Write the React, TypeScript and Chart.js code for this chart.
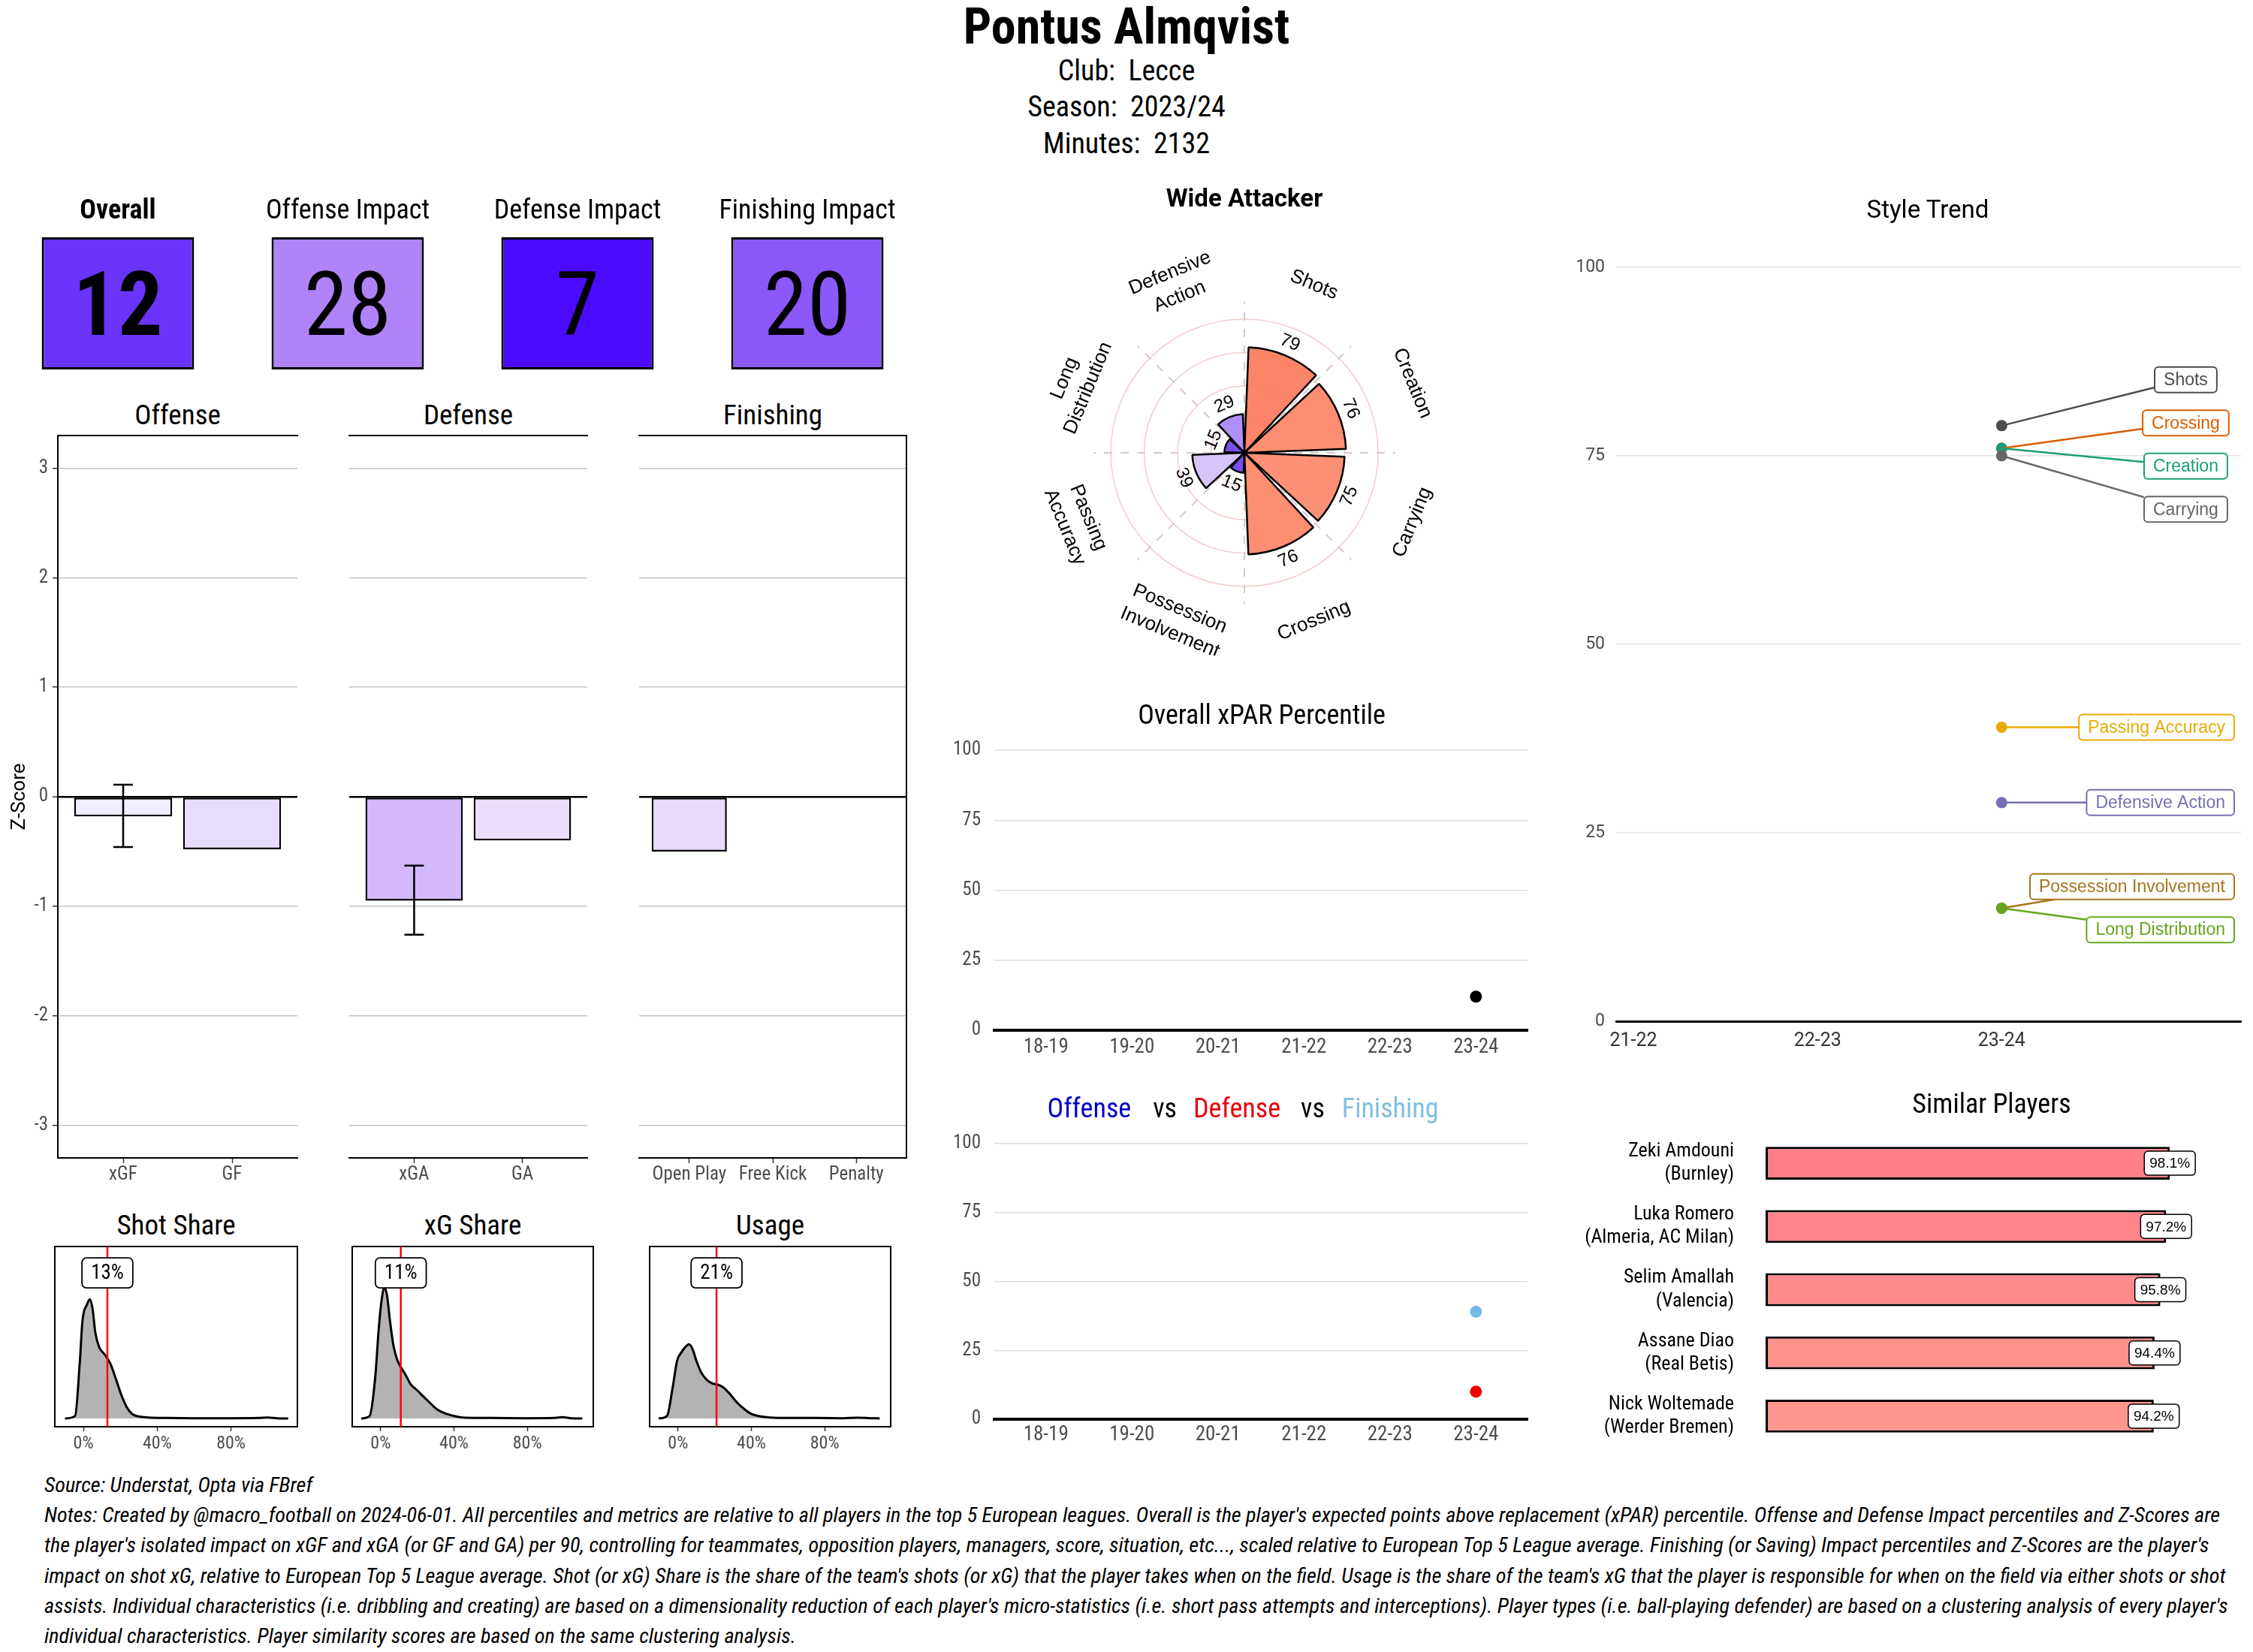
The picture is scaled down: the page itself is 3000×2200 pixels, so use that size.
import React, { useEffect, useRef } from 'react';
import { Chart, registerables } from 'chart.js';
Chart.register(...registerables);

const COND = '"Roboto Condensed", "Liberation Sans Narrow", "DejaVu Sans Condensed", sans-serif';
const ROBOTO = 'Roboto, "Liberation Sans", sans-serif';
const ARIAL = '"Liberation Sans", Arial, Helvetica, sans-serif';

// ---------------- data ----------------
const playerName = 'Pontus Almqvist';
const clubName = 'Lecce';
const seasonName = '2023/24';
const minutesPlayed = 2132;

const tileLabels = ['Overall', 'Offense Impact', 'Defense Impact', 'Finishing Impact'];
const tileValues = [12, 28, 7, 20];
const tileColors = ['#6A35FA', '#B083F9', '#4B0BFF', '#8B58FA'];

const offenseCats = ['xGF', 'GF'];
const offenseZ = [-0.18, -0.48];
const offenseErrLow = [-0.46, null];
const offenseErrHigh = [0.11, null];
const offenseColors = ['#EFEFFD', '#E8DCFE'];

const defenseCats = ['xGA', 'GA'];
const defenseZ = [-0.95, -0.40];
const defenseErrLow = [-1.26, null];
const defenseErrHigh = [-0.63, null];
const defenseColors = ['#D3B8FA', '#EADDFE'];

const finishingCats = ['Open Play', 'Free Kick', 'Penalty'];
const finishingZ = [-0.50, 0, 0];
const finishingErrLow = [null, null, null];
const finishingErrHigh = [null, null, null];
const finishingColors = ['#E8D9FD', '#FFFFFF', '#FFFFFF'];

const shotShareX = [-0.10, -0.045, -0.02, -0.005, 0.02, 0.035, 0.05, 0.065, 0.085, 0.115, 0.145, 0.175, 0.205, 0.235, 0.265, 0.30, 0.35, 0.45, 0.60, 0.80, 0.95, 1.00, 1.05, 1.11];
const shotShareY = [0, 0.10, 2.20, 3.90, 4.55, 4.75, 4.35, 3.40, 2.85, 2.55, 2.20, 1.60, 0.95, 0.45, 0.17, 0.08, 0.04, 0.02, 0.01, 0.01, 0.02, 0.04, 0.01, 0];
const shotShareValue = 0.13;

const xgShareX = [-0.106, -0.06, -0.03, -0.01, 0.005, 0.02, 0.035, 0.05, 0.07, 0.09, 0.11, 0.135, 0.165, 0.195, 0.23, 0.265, 0.31, 0.36, 0.41, 0.46, 0.60, 0.80, 0.95, 0.99, 1.04, 1.10];
const xgShareY = [0, 0.10, 1.60, 3.60, 4.70, 5.20, 4.90, 3.95, 2.90, 2.35, 2.05, 1.75, 1.35, 1.15, 0.90, 0.65, 0.35, 0.18, 0.08, 0.03, 0.02, 0.01, 0.02, 0.05, 0.01, 0];
const xgShareValue = 0.11;

const usageX = [-0.106, -0.06, -0.03, -0.005, 0.02, 0.04, 0.06, 0.08, 0.10, 0.125, 0.155, 0.185, 0.215, 0.245, 0.28, 0.32, 0.36, 0.40, 0.45, 0.50, 0.60, 0.75, 0.90, 0.98, 1.05, 1.10];
const usageY = [0, 0.10, 1.20, 2.30, 2.65, 2.85, 2.95, 2.75, 2.30, 1.85, 1.55, 1.40, 1.35, 1.25, 1.00, 0.65, 0.38, 0.18, 0.08, 0.04, 0.02, 0.02, 0.01, 0.03, 0.01, 0];
const usageValue = 0.21;

const radarCats = ['Shots', 'Creation', 'Carrying', 'Crossing', 'Possession Involvement', 'Passing Accuracy', 'Long Distribution', 'Defensive Action'];
const radarValues = [79, 76, 75, 76, 15, 39, 15, 29];
const radarColors = ['rgba(252,122,92,0.92)', 'rgba(253,132,102,0.92)', 'rgba(253,135,106,0.92)', 'rgba(253,132,102,0.92)', 'rgba(110,63,238,0.92)', 'rgba(211,192,251,0.92)', 'rgba(110,63,238,0.92)', 'rgba(167,135,245,0.92)'];

const seasons = ['18-19', '19-20', '20-21', '21-22', '22-23', '23-24'];
const overallPct = [null, null, null, null, null, 12];
const defensePct = [null, null, null, null, null, 10];
const finishingPct = [null, null, null, null, null, 39];

const trendSeasons = ['21-22', '22-23', '23-24'];
const trendNames = ['Shots', 'Crossing', 'Creation', 'Carrying', 'Passing Accuracy', 'Defensive Action', 'Possession Involvement', 'Long Distribution'];
const trendValues = [
  [null, null, 79],
  [null, null, 76],
  [null, null, 76],
  [null, null, 75],
  [null, null, 39],
  [null, null, 29],
  [null, null, 15],
  [null, null, 15],
];
const trendColors = ['#4D4D4D', '#D95F02', '#1B9E77', '#666666', '#E6AB02', '#7570B3', '#A6761D', '#66A61E'];

const simNames = ['Zeki Amdouni', 'Luka Romero', 'Selim Amallah', 'Assane Diao', 'Nick Woltemade'];
const simClubs = ['Burnley', 'Almeria, AC Milan', 'Valencia', 'Real Betis', 'Werder Bremen'];
const simScores = [98.1, 97.2, 95.8, 94.4, 94.2];
const simColors = ['#FF7F88', '#FF858A', '#FF8B8C', '#FF918D', '#FF968E'];

const sourceText = 'Source: Understat, Opta via FBref';
const notesLines = [
  "Notes: Created by @macro_football on 2024-06-01. All percentiles and metrics are relative to all players in the top 5 European leagues. Overall is the player's expected points above replacement (xPAR) percentile. Offense and Defense Impact percentiles and Z-Scores are",
  "the player's isolated impact on xGF and xGA (or GF and GA) per 90, controlling for teammates, opposition players, managers, score, situation, etc..., scaled relative to European Top 5 League average. Finishing (or Saving) Impact percentiles and Z-Scores are the player's",
  "impact on shot xG, relative to European Top 5 League average. Shot (or xG) Share is the share of the team's shots (or xG) that the player takes when on the field. Usage is the share of the team's xG that the player is responsible for when on the field via either shots or shot",
  "assists. Individual characteristics (i.e. dribbling and creating) are based on a dimensionality reduction of each player's micro-statistics (i.e. short pass attempts and interceptions). Player types (i.e. ball-playing defender) are based on a clustering analysis of every player's",
  'individual characteristics. Player similarity scores are based on the same clustering analysis.',
];

// ---------------- helpers ----------------
function roundRect(ctx: any, x: number, y: number, w: number, h: number, r: number) {
  ctx.beginPath();
  ctx.moveTo(x + r, y);
  ctx.lineTo(x + w - r, y);
  ctx.arcTo(x + w, y, x + w, y + r, r);
  ctx.lineTo(x + w, y + h - r);
  ctx.arcTo(x + w, y + h, x + w - r, y + h, r);
  ctx.lineTo(x + r, y + h);
  ctx.arcTo(x, y + h, x, y + h - r, r);
  ctx.lineTo(x, y + r);
  ctx.arcTo(x, y, x + r, y, r);
  ctx.closePath();
}

function noPad(s: any) {
  s.paddingTop = 0;
  s.paddingBottom = 0;
  s.paddingLeft = 0;
  s.paddingRight = 0;
}

const baseOpts = {
  animation: false,
  responsive: false,
  devicePixelRatio: 1,
  events: [],
};
const noPlugins = { legend: { display: false }, tooltip: { enabled: false } };

const framePlugin = (sides: any, width = 2) => ({
  id: 'frame',
  afterDatasetsDraw(chart: any) {
    const { ctx, chartArea: a } = chart;
    ctx.save();
    ctx.strokeStyle = '#000';
    ctx.lineWidth = width;
    ctx.lineCap = 'square';
    ctx.beginPath();
    if (sides.top) { ctx.moveTo(a.left, a.top); ctx.lineTo(a.right, a.top); }
    if (sides.bottom) { ctx.moveTo(a.left, a.bottom); ctx.lineTo(a.right, a.bottom); }
    if (sides.left) { ctx.moveTo(a.left, a.top); ctx.lineTo(a.left, a.bottom); }
    if (sides.right) { ctx.moveTo(a.right, a.top); ctx.lineTo(a.right, a.bottom); }
    ctx.stroke();
    ctx.restore();
  },
});

function repel(targets: number[], gap: number): number[] {
  const idx = targets.map((_, i) => i).sort((a, b) => targets[a] - targets[b] || a - b);
  let clusters = idx.map((i) => ({ members: [i], center: targets[i] }));
  let merged = true;
  while (merged) {
    merged = false;
    for (let k = 0; k < clusters.length - 1; k++) {
      const A = clusters[k], B = clusters[k + 1];
      const aBottom = A.center + ((A.members.length - 1) * gap) / 2;
      const bTop = B.center - ((B.members.length - 1) * gap) / 2;
      if (bTop - aBottom < gap) {
        const members = A.members.concat(B.members);
        const center = members.reduce((s, i) => s + targets[i], 0) / members.length;
        clusters.splice(k, 2, { members, center });
        merged = true;
        break;
      }
    }
  }
  const out: number[] = new Array(targets.length);
  clusters.forEach((c) => c.members.forEach((m, j) => { out[m] = c.center + (j - (c.members.length - 1) / 2) * gap; }));
  return out;
}

// ---------------- chart configs ----------------
function tilesConfig() {
  return {
    type: 'bar',
    data: {
      labels: tileLabels,
      datasets: [{
        data: tileLabels.map(() => 1),
        backgroundColor: tileColors,
        borderColor: '#000',
        borderWidth: 3,
        borderSkipped: false,
        barPercentage: 0.663,
        categoryPercentage: 1,
      }],
    },
    options: {
      ...baseOpts,
      layout: { padding: { left: 4, right: 4, top: 0, bottom: 8 } },
      plugins: noPlugins,
      scales: {
        x: {
          position: 'top',
          grid: { display: false, drawTicks: false },
          border: { display: false },
          ticks: {
            color: '#000',
            padding: 12,
            font: (c: any) => ({ family: COND, size: 36, weight: c.index === 0 ? 'bold' : 'normal' }),
          },
          afterFit: (s: any) => { s.height = 86; noPad(s); },
        },
        y: { display: false, min: 0, max: 1 },
      },
    },
    plugins: [{
      id: 'tileNumbers',
      afterDatasetsDraw(chart: any) {
        const ctx = chart.ctx;
        chart.getDatasetMeta(0).data.forEach((el: any, i: number) => {
          const p = el.getProps(['x', 'y', 'base'], true);
          const cy = (p.y + p.base) / 2;
          ctx.save();
          ctx.font = `${i === 0 ? 'bold' : 'normal'} 118px ${COND}`;
          ctx.textAlign = 'center';
          ctx.textBaseline = 'alphabetic';
          ctx.fillStyle = '#000';
          ctx.fillText(String(tileValues[i]), p.x, cy + 0.36 * 118);
          ctx.restore();
        });
      },
    }],
  };
}

function zConfig(cats: string[], vals: number[], lo: any[], hi: any[], colors: string[], opt: any) {
  const n = cats.length;
  return {
    type: 'bar',
    data: {
      datasets: [{
        data: cats.map((_, i) => ({ x: i + 1, y: vals[i] })),
        backgroundColor: colors,
        borderColor: '#000',
        borderWidth: 2.5,
        borderSkipped: false,
        barPercentage: 0.9,
        categoryPercentage: 1,
      }],
    },
    options: {
      ...baseOpts,
      layout: { padding: { left: opt.padL, right: opt.padR, top: 10, bottom: 0 } },
      plugins: noPlugins,
      scales: {
        x: {
          type: 'linear',
          offset: false,
          min: 0.4,
          max: n + 0.6,
          afterBuildTicks: (s: any) => { s.ticks = cats.map((_, i) => ({ value: i + 1 })); },
          ticks: {
            callback: (v: any) => cats[Math.round(v) - 1] ?? '',
            color: '#4D4D4D',
            font: { family: COND, size: 25 },
            padding: 1,
            autoSkip: false,
            maxRotation: 0,
          },
          grid: { offset: false, drawOnChartArea: false, drawTicks: true, tickLength: 7, tickColor: '#333', tickWidth: 1.5 },
          border: { display: true, color: '#000', width: 2 },
          afterFit: (s: any) => { s.height = 58; noPad(s); },
        },
        y: {
          min: -3.3,
          max: 3.3,
          afterBuildTicks: (s: any) => { s.ticks = [-3, -2, -1, 0, 1, 2, 3].map((v) => ({ value: v })); },
          grid: {
            color: (c: any) => (c.tick && c.tick.value === 0 ? '#000' : '#C4C4C4'),
            lineWidth: (c: any) => (c.tick && c.tick.value === 0 ? 2.5 : 1.5),
            drawTicks: opt.showY,
            tickLength: 7,
            tickColor: '#333',
            tickWidth: 1.5,
          },
          border: { display: opt.showY, color: '#000', width: 2 },
          ticks: { display: opt.showY, padding: 6, color: '#4D4D4D', font: { family: COND, size: 25 } },
          title: {
            display: opt.showY,
            text: 'Z-Score',
            color: '#000',
            font: { family: ROBOTO, size: 26 },
            padding: { top: 11, bottom: 0 },
          },
          afterFit: (s: any) => { s.width = opt.showY ? 77 : 0; noPad(s); },
        },
      },
    },
    plugins: [
      framePlugin({ top: true, right: opt.right }),
      {
        id: 'errbars',
        afterDatasetsDraw(chart: any) {
          const { ctx } = chart;
          const xs = chart.scales.x, ys = chart.scales.y;
          const unit = Math.abs(xs.getPixelForValue(2) - xs.getPixelForValue(1));
          ctx.save();
          ctx.strokeStyle = '#000';
          ctx.lineWidth = 2.5;
          lo.forEach((l: any, i: number) => {
            if (l == null || hi[i] == null) return;
            const x = xs.getPixelForValue(i + 1);
            const y1 = ys.getPixelForValue(l), y2 = ys.getPixelForValue(hi[i]);
            const hw = unit * 0.09;
            ctx.beginPath();
            ctx.moveTo(x, y1); ctx.lineTo(x, y2);
            ctx.moveTo(x - hw, y1); ctx.lineTo(x + hw, y1);
            ctx.moveTo(x - hw, y2); ctx.lineTo(x + hw, y2);
            ctx.stroke();
          });
          ctx.restore();
        },
      },
    ],
  };
}

function densityConfig(xs: number[], ys: number[], value: number) {
  return {
    type: 'line',
    data: {
      datasets: [{
        data: xs.map((x, i) => ({ x, y: ys[i] })),
        borderColor: '#000',
        borderWidth: 3,
        backgroundColor: '#B3B3B3',
        fill: 'origin',
        pointRadius: 0,
        cubicInterpolationMode: 'monotone',
      }],
    },
    options: {
      ...baseOpts,
      layout: { padding: { left: 5, right: 5, top: 5, bottom: 0 } },
      plugins: { ...noPlugins, filler: { propagate: false } },
      scales: {
        x: {
          type: 'linear',
          min: -0.155,
          max: 1.16,
          afterBuildTicks: (s: any) => { s.ticks = [0, 0.4, 0.8].map((v) => ({ value: v })); },
          ticks: {
            callback: (v: any) => Math.round(v * 100) + '%',
            color: '#4D4D4D',
            font: { family: COND, size: 24 },
            padding: 3,
            maxRotation: 0,
          },
          grid: { drawOnChartArea: false, drawTicks: true, tickLength: 6, tickColor: '#333', tickWidth: 1.5 },
          border: { display: true, color: '#000', width: 2 },
          afterFit: (s: any) => { s.height = 50; noPad(s); },
        },
        y: { display: false, min: -0.33, max: 6.85 },
      },
    },
    plugins: [
      framePlugin({ top: true, left: true, right: true }),
      {
        id: 'marker',
        afterDatasetsDraw(chart: any) {
          const { ctx, chartArea: a } = chart;
          const xsc = chart.scales.x, ysc = chart.scales.y;
          const x = xsc.getPixelForValue(value);
          ctx.save();
          ctx.strokeStyle = '#FF0000';
          ctx.lineWidth = 2.5;
          ctx.beginPath(); ctx.moveTo(x, a.top); ctx.lineTo(x, a.bottom); ctx.stroke();
          const txt = Math.round(value * 100) + '%';
          ctx.font = `27px ${COND}`;
          const w = ctx.measureText(txt).width + 24, h = 40;
          const cy = ysc.getPixelForValue(5.8);
          roundRect(ctx, x - w / 2, cy - h / 2, w, h, 6);
          ctx.fillStyle = '#fff'; ctx.fill();
          ctx.lineWidth = 1.8; ctx.strokeStyle = '#000'; ctx.stroke();
          ctx.fillStyle = '#000'; ctx.textAlign = 'center'; ctx.textBaseline = 'middle';
          ctx.fillText(txt, x, cy + 1);
          ctx.restore();
        },
      },
    ],
  };
}

function wrapLabel(s: string): string[] {
  return s.includes(' ') ? s.split(' ') : [s];
}

function drawTangent(ctx: any, cx: number, cy: number, deg: number, dist: number, lines: string[], font: string, lh: number) {
  const th = (deg * Math.PI) / 180;
  const x = cx + dist * Math.sin(th), y = cy - dist * Math.cos(th);
  let rot = deg;
  if (deg > 90 && deg < 270) rot = deg - 180;
  ctx.save();
  ctx.translate(x, y);
  ctx.rotate((rot * Math.PI) / 180);
  ctx.font = font;
  ctx.fillStyle = '#000';
  ctx.textAlign = 'center';
  ctx.textBaseline = 'middle';
  lines.forEach((ln, k) => ctx.fillText(ln, 0, (k - (lines.length - 1) / 2) * lh));
  ctx.restore();
}

function radarConfig() {
  const labels16: string[] = [];
  const data16: number[] = [];
  const colors16: string[] = [];
  radarCats.forEach((c, i) => {
    labels16.push(c); data16.push(radarValues[i]); colors16.push(radarColors[i]);
    labels16.push(''); data16.push(0); colors16.push('rgba(0,0,0,0)');
  });
  const n = radarCats.length;
  const slot = 360 / n;
  return {
    type: 'polarArea',
    data: {
      labels: labels16,
      datasets: [{
        data: data16,
        backgroundColor: colors16,
        borderColor: '#000',
        borderWidth: (c: any) => (c.dataIndex % 2 === 0 ? 2.5 : 0),
        angle: (c: any) => (c.dataIndex % 2 === 0 ? slot * 0.9 : slot * 0.1),
      }],
    },
    options: {
      ...baseOpts,
      layout: { padding: 3 },
      plugins: noPlugins,
      scales: {
        r: {
          min: 0,
          max: 150,
          startAngle: slot * 0.05,
          ticks: { display: false, stepSize: 25 },
          grid: {
            circular: true,
            color: (c: any) => (c.tick && c.tick.value > 0 && c.tick.value <= 100 ? 'rgba(240,185,185,0.75)' : 'rgba(0,0,0,0)'),
            lineWidth: 1.5,
          },
          angleLines: { display: false },
          pointLabels: { display: false },
        },
      },
    },
    plugins: [{
      id: 'radarDeco',
      beforeDatasetsDraw(chart: any) {
        const r = chart.scales.r; const ctx = chart.ctx;
        const cx = r.xCenter, cy = r.yCenter, len = r.getDistanceFromCenterForValue(113);
        ctx.save();
        ctx.strokeStyle = '#D5C9C9';
        ctx.lineWidth = 2;
        ctx.setLineDash([11, 11]);
        for (let k = 0; k < n; k++) {
          const th = (k * slot * Math.PI) / 180;
          ctx.beginPath();
          ctx.moveTo(cx, cy);
          ctx.lineTo(cx + len * Math.sin(th), cy - len * Math.cos(th));
          ctx.stroke();
        }
        ctx.restore();
      },
      afterDatasetsDraw(chart: any) {
        const r = chart.scales.r; const ctx = chart.ctx;
        const cx = r.xCenter, cy = r.yCenter;
        radarCats.forEach((cat, i) => {
          const deg = (i + 0.5) * slot;
          drawTangent(ctx, cx, cy, deg, r.getDistanceFromCenterForValue(136), wrapLabel(cat), `26px ${ARIAL}`, 34);
          drawTangent(ctx, cx, cy, deg, r.getDistanceFromCenterForValue(radarValues[i] + 10), [String(radarValues[i])], `24px ${ARIAL}`, 28);
        });
      },
    }],
  };
}

function seasonPointsConfig(series: { values: any[]; color: string }[], padTop: number, xHeight: number, xPad: number) {
  return {
    type: 'line',
    data: {
      datasets: series.map((s) => ({
        data: s.values.map((v, i) => ({ x: i + 1, y: v })),
        showLine: false,
        pointRadius: 8,
        pointBackgroundColor: s.color,
        pointBorderColor: s.color,
        pointBorderWidth: 0,
      })),
    },
    options: {
      ...baseOpts,
      layout: { padding: { left: 0, right: 16, top: padTop, bottom: 0 } },
      plugins: noPlugins,
      scales: {
        x: {
          type: 'linear',
          min: 0.4,
          max: seasons.length + 0.6,
          afterBuildTicks: (s: any) => { s.ticks = seasons.map((_, i) => ({ value: i + 1 })); },
          ticks: {
            callback: (v: any) => seasons[Math.round(v) - 1] ?? '',
            color: '#4D4D4D',
            font: { family: COND, size: 27 },
            padding: xPad,
            autoSkip: false,
            maxRotation: 0,
          },
          grid: { display: false, drawTicks: false },
          border: { display: true, color: '#000', width: 4 },
          afterFit: (s: any) => { s.height = xHeight; noPad(s); },
        },
        y: {
          min: 0,
          max: 100,
          ticks: { stepSize: 25, padding: 18, color: '#4D4D4D', font: { family: COND, size: 25 } },
          grid: {
            color: (c: any) => (c.tick && c.tick.value === 0 ? 'rgba(0,0,0,0)' : '#DEDEDE'),
            lineWidth: 1.5,
            drawTicks: false,
          },
          border: { display: false },
          afterFit: (s: any) => { s.width = 94; noPad(s); },
        },
      },
    },
  };
}

const TREND_LABEL_X = 4.0;

function trendConfig() {
  return {
    type: 'line',
    data: {
      datasets: trendNames.map((name, i) => ({
        label: name,
        order: -i,
        data: trendValues[i].map((v, j) => ({ x: j + 1, y: v })),
        showLine: false,
        pointRadius: 7.5,
        pointBackgroundColor: trendColors[i],
        pointBorderColor: trendColors[i],
        pointBorderWidth: 0,
      })),
    },
    options: {
      ...baseOpts,
      layout: { padding: { left: 0, right: 16, top: 26, bottom: 0 } },
      plugins: noPlugins,
      scales: {
        x: {
          type: 'linear',
          min: 0.906,
          max: 4.3,
          afterBuildTicks: (s: any) => { s.ticks = trendSeasons.map((_, i) => ({ value: i + 1 })); },
          ticks: {
            callback: (v: any) => trendSeasons[Math.round(v) - 1] ?? '',
            color: '#333',
            font: { family: ROBOTO, size: 25 },
            padding: 12,
            autoSkip: false,
            maxRotation: 0,
          },
          grid: { display: false, drawTicks: false },
          border: { display: true, color: '#000', width: 3 },
          afterFit: (s: any) => { s.height = 60; noPad(s); },
        },
        y: {
          min: 0,
          max: 100,
          ticks: { stepSize: 25, padding: 15, color: '#4D4D4D', font: { family: ROBOTO, size: 23 } },
          grid: {
            color: (c: any) => (c.tick && c.tick.value === 0 ? 'rgba(0,0,0,0)' : '#E3E3E3'),
            lineWidth: 1.5,
            drawTicks: false,
          },
          border: { display: false },
          afterFit: (s: any) => { s.width = 92; noPad(s); },
        },
      },
    },
    plugins: [{
      id: 'trendLabels',
      afterDatasetsDraw(chart: any) {
        const { ctx, chartArea: a } = chart;
        const xs = chart.scales.x, ys = chart.scales.y;
        ctx.save();
        ctx.font = `23px ${ARIAL}`;
        const items = trendNames.map((name, i) => {
          const vals = trendValues[i];
          let j = vals.length - 1;
          while (j >= 0 && vals[j] == null) j--;
          const px = xs.getPixelForValue(j + 1), py = ys.getPixelForValue(vals[j] as number);
          const w = ctx.measureText(name).width + 24, h = 34;
          let bx = xs.getPixelForValue(TREND_LABEL_X);
          if (bx + w / 2 > a.right - 9) bx = a.right - 9 - w / 2;
          return { name, px, py, w, h, bx, color: trendColors[i] };
        });
        const yPos = repel(items.map((it) => it.py), 57.5);
        items.forEach((it, i) => {
          const by = yPos[i];
          const dx = it.px - it.bx, dy = it.py - by;
          const sx = dx !== 0 ? it.w / 2 / Math.abs(dx) : Infinity;
          const sy = dy !== 0 ? it.h / 2 / Math.abs(dy) : Infinity;
          const s = Math.min(sx, sy);
          if (s < 1) {
            ctx.beginPath();
            ctx.moveTo(it.px, it.py);
            ctx.lineTo(it.bx + dx * s, by + dy * s);
            ctx.strokeStyle = it.color;
            ctx.lineWidth = 2.5;
            ctx.stroke();
          }
          roundRect(ctx, it.bx - it.w / 2, by - it.h / 2, it.w, it.h, 5);
          ctx.fillStyle = '#fff'; ctx.fill();
          ctx.strokeStyle = it.color; ctx.lineWidth = 2; ctx.stroke();
          ctx.fillStyle = it.color;
          ctx.textAlign = 'center';
          ctx.textBaseline = 'middle';
          ctx.fillText(it.name, it.bx, by + 1);
        });
        ctx.restore();
      },
    }],
  };
}

function similarConfig() {
  return {
    type: 'bar',
    data: {
      labels: simNames.map((n, i) => [n, `(${simClubs[i]})`]),
      datasets: [{
        data: simScores,
        backgroundColor: simColors,
        borderColor: '#000',
        borderWidth: 3,
        borderSkipped: false,
        barPercentage: 0.52,
        categoryPercentage: 1,
      }],
    },
    options: {
      ...baseOpts,
      indexAxis: 'y',
      layout: { padding: { left: 0, right: 40, top: 7, bottom: 7 } },
      plugins: noPlugins,
      scales: {
        x: { display: false, min: 0, max: 111 },
        y: {
          ticks: { color: '#000', font: { family: COND, size: 26 }, padding: 42 },
          grid: { display: false, drawTicks: false },
          border: { display: false },
          afterFit: (s: any) => { s.width = 291; noPad(s); },
        },
      },
    },
    plugins: [{
      id: 'simLabels',
      afterDatasetsDraw(chart: any) {
        const ctx = chart.ctx;
        chart.getDatasetMeta(0).data.forEach((el: any, i: number) => {
          const p = el.getProps(['x', 'y'], true);
          const txt = simScores[i].toFixed(1) + '%';
          ctx.save();
          ctx.font = `19px ${ARIAL}`;
          const w = ctx.measureText(txt).width + 14, h = 32;
          roundRect(ctx, p.x - w / 2, p.y - h / 2, w, h, 5);
          ctx.fillStyle = '#fff'; ctx.fill();
          ctx.strokeStyle = '#000'; ctx.lineWidth = 1.5; ctx.stroke();
          ctx.fillStyle = '#000'; ctx.textAlign = 'center'; ctx.textBaseline = 'middle';
          ctx.fillText(txt, p.x, p.y + 1);
          ctx.restore();
        });
      },
    }],
  };
}

// ---------------- components ----------------
function ChartBox({ left, top, width, height, make }: any) {
  const ref = useRef<HTMLCanvasElement>(null);
  useEffect(() => {
    const chart = new Chart(ref.current as HTMLCanvasElement, make());
    return () => chart.destroy();
  }, []);
  return (
    <canvas
      ref={ref}
      width={width}
      height={height}
      style={{ position: 'absolute', left, top, width, height }}
    />
  );
}

function T({ cx, cy, size, family = COND, weight = 'normal', color = '#000', children }: any) {
  return (
    <div
      style={{
        position: 'absolute',
        left: cx - 1000,
        width: 2000,
        top: cy - 0.6 * size,
        textAlign: 'center',
        fontFamily: family,
        fontSize: size,
        fontWeight: weight,
        color,
        lineHeight: 1.2,
        whiteSpace: 'pre',
      }}
    >
      {children}
    </div>
  );
}

export default function App() {
  return (
    <div style={{ position: 'absolute', left: 0, top: 0, width: 3000, height: 2200, background: '#fff', overflow: 'hidden' }}>
      <T cx={1500} cy={36} size={66} weight="bold">{playerName}</T>
      <T cx={1500} cy={95} size={38}>{`Club:  ${clubName}`}</T>
      <T cx={1500} cy={143} size={38}>{`Season:  ${seasonName}`}</T>
      <T cx={1500} cy={192} size={38}>{`Minutes:  ${minutesPlayed}`}</T>

      <ChartBox left={0} top={230} width={1232} height={270} make={tilesConfig} />

      <T cx={236.5} cy={553} size={37}>Offense</T>
      <T cx={623.5} cy={553} size={37}>Defense</T>
      <T cx={1029} cy={553} size={37}>Finishing</T>
      <ChartBox left={0} top={570} width={400} height={1030}
        make={() => zConfig(offenseCats, offenseZ, offenseErrLow, offenseErrHigh, offenseColors, { showY: true, padL: 0, padR: 4, right: false })} />
      <ChartBox left={460} top={570} width={327} height={1030}
        make={() => zConfig(defenseCats, defenseZ, defenseErrLow, defenseErrHigh, defenseColors, { showY: false, padL: 5, padR: 5, right: false })} />
      <ChartBox left={846} top={570} width={366} height={1030}
        make={() => zConfig(finishingCats, finishingZ, finishingErrLow, finishingErrHigh, finishingColors, { showY: false, padL: 5, padR: 5, right: true })} />

      <T cx={234.5} cy={1632} size={37}>Shot Share</T>
      <T cx={629.5} cy={1632} size={37}>xG Share</T>
      <T cx={1025.5} cy={1632} size={37}>Usage</T>
      <ChartBox left={68} top={1655} width={333} height={295} make={() => densityConfig(shotShareX, shotShareY, shotShareValue)} />
      <ChartBox left={464} top={1655} width={331} height={295} make={() => densityConfig(xgShareX, xgShareY, xgShareValue)} />
      <ChartBox left={860} top={1655} width={331} height={295} make={() => densityConfig(usageX, usageY, usageValue)} />

      <T cx={1657} cy={264} size={33} family={ROBOTO} weight="bold">Wide Attacker</T>
      <ChartBox left={1387} top={333} width={540} height={540} make={radarConfig} />

      <T cx={1680} cy={953} size={36}>Overall xPAR Percentile</T>
      <ChartBox left={1230} top={975} width={820} height={450}
        make={() => seasonPointsConfig([{ values: overallPct, color: '#000' }], 24, 53, 7)} />

      <T cx={1655} cy={1477} size={36}>
        <span style={{ color: '#0000CD' }}>Offense</span>
        <span style={{ marginLeft: 29, marginRight: 22 }}>vs</span>
        <span style={{ color: '#E8000B' }}>Defense</span>
        <span style={{ marginLeft: 27, marginRight: 23 }}>vs</span>
        <span style={{ color: '#80BFE0' }}>Finishing</span>
      </T>
      <ChartBox left={1230} top={1495} width={820} height={450}
        make={() => seasonPointsConfig([
          { values: finishingPct, color: '#74B9E7' },
          { values: defensePct, color: '#EE0000' },
        ], 28, 55, 5)} />

      <T cx={2567} cy={279} size={33} family={ROBOTO}>Style Trend</T>
      <ChartBox left={2060} top={330} width={940} height={1090} make={trendConfig} />

      <T cx={2652} cy={1471} size={36}>Similar Players</T>
      <ChartBox left={2060} top={1500} width={940} height={435} make={similarConfig} />

      <div
        style={{
          position: 'absolute',
          left: 59,
          top: 1958,
          fontFamily: COND,
          fontStyle: 'italic',
          fontSize: 28.2,
          lineHeight: '40.2px',
          whiteSpace: 'pre',
          color: '#000',
        }}
      >
        {[sourceText, ...notesLines].join('\n')}
      </div>
    </div>
  );
}
